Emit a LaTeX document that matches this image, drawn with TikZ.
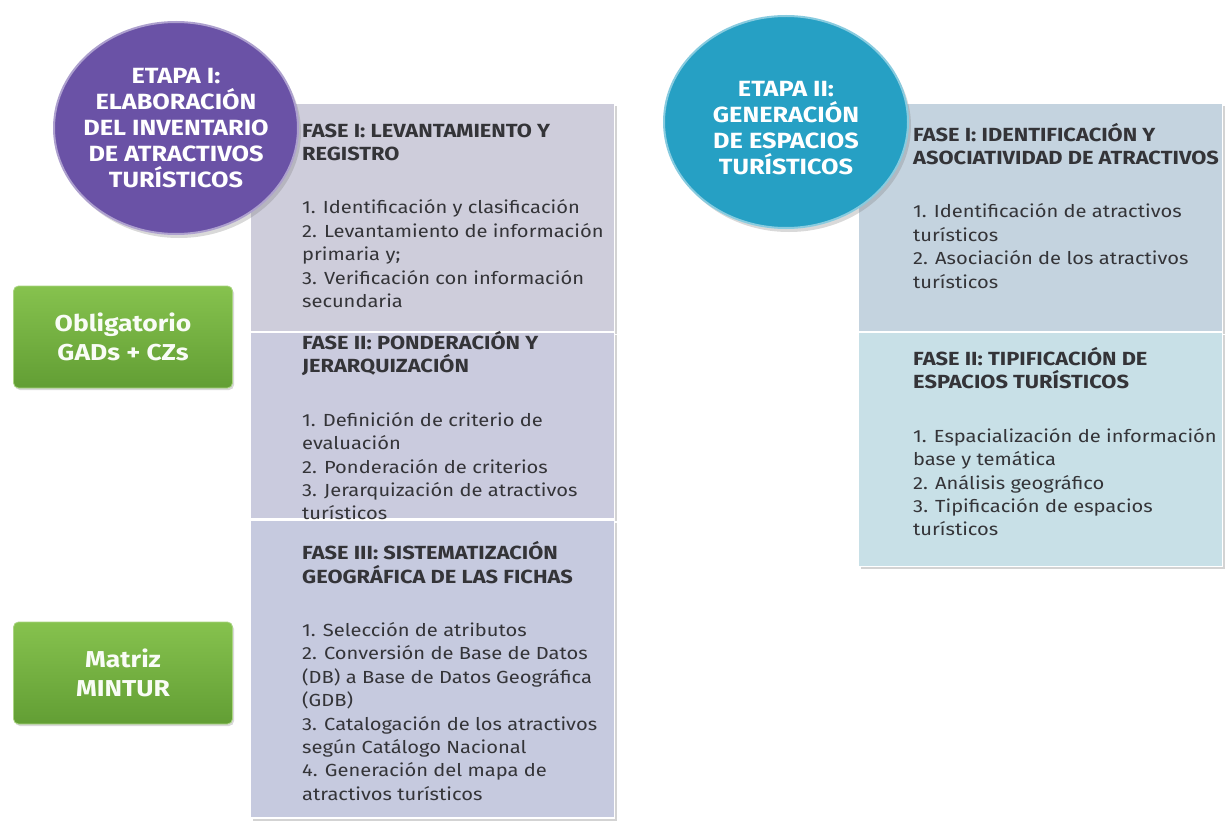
\documentclass[tikz,border=0pt]{standalone}
\usepackage{fontspec}
\setmainfont{Fira Sans}[FakeStretch=1.15]
\usetikzlibrary{positioning,shapes.geometric,shadows}

\definecolor{EtapaPurple}{RGB}{106,82,166}
\definecolor{EtapaTeal}{RGB}{38,160,196}
\definecolor{FaseA}{RGB}{206,205,219}
\definecolor{FaseB}{RGB}{202,203,222}
\definecolor{FaseC}{RGB}{198,202,223}
\definecolor{FaseD}{RGB}{196,211,223}
\definecolor{FaseE}{RGB}{200,224,231}
\definecolor{LeafTop}{RGB}{134,194,78}
\definecolor{LeafBot}{RGB}{98,158,52}
\definecolor{InkGray}{RGB}{52,52,56}

\newcommand{\fasehead}[1]{{\fontsize{19}{23.5}\selectfont\bfseries #1}}

\begin{document}
\begin{tikzpicture}[
    x=1pt, y=-1pt, node distance=0pt,
    fase/.style={draw=white, line width=1.2pt, fill=#1, inner sep=0pt,
                 minimum width=364pt,
                 drop shadow={shadow xshift=2pt, shadow yshift=-2.5pt, opacity=.35}},
    txt/.style={anchor=west, align=left, inner sep=0pt, text=InkGray,
                font=\fontsize{17.5}{23.4}\selectfont},
    etapa/.style={ellipse, fill=#1, draw=#1!55!white, line width=2pt, inner sep=0pt,
                  minimum width=244pt, minimum height=212pt,
                  drop shadow={shadow xshift=3pt, shadow yshift=-4pt, opacity=.3}},
    etapatxt/.style={align=center, inner sep=0pt, text=white,
                     font=\fontsize{22}{26}\selectfont\bfseries},
    tag/.style={rounded corners=5pt, top color=LeafTop, bottom color=LeafBot,
                draw=LeafTop!70!white, line width=.8pt,
                minimum width=219pt, minimum height=102pt, align=center,
                text=white!95!LeafTop, font=\fontsize{23}{29}\selectfont\bfseries,
                drop shadow={shadow xshift=1.5pt, shadow yshift=-2pt, opacity=.3}}
  ]
    \useasboundingbox (0,0) rectangle (1225,821);

    % etapa I: phases
    \node[fase=FaseA, minimum height=228pt, anchor=north west] (f1) at (250,103) {};
    \node[fase=FaseB, minimum height=186pt, below=of f1] (f2) {};
    \node[fase=FaseC, minimum height=298pt, below=of f2] (f3) {};

    \node[txt] (t1) at ([shift={(52,-2)}]f1.west)
      {\fasehead{FASE I: LEVANTAMIENTO Y}\\\fasehead{REGISTRO}\\[30pt]
       1. Identificación y clasificación\\2. Levantamiento de información\\
       primaria y;\\3. Verificación con información\\secundaria};
    \node[txt] (t2) at ([shift={(52,0)}]f2.west)
      {\fasehead{FASE II: PONDERACIÓN Y}\\\fasehead{JERARQUIZACIÓN}\\[30pt]
       1. Definición de criterio de\\evaluación\\2. Ponderación de criterios\\
       3. Jerarquización de atractivos\\turísticos};
    \node[txt] (t3) at ([shift={(52,2)}]f3.west)
      {\fasehead{FASE III: SISTEMATIZACIÓN}\\\fasehead{GEOGRÁFICA DE LAS FICHAS}\\[30pt]
       1. Selección de atributos\\2. Conversión de Base de Datos\\
       (DB) a Base de Datos Geográfica\\(GDB)\\
       3. Catalogación de los atractivos\\según Catálogo Nacional\\
       4. Generación del mapa de\\atractivos turísticos};

    % etapa II: phases
    \node[fase=FaseD, minimum height=228pt, anchor=north west] (g1) at (858,103) {};
    \node[fase=FaseE, minimum height=234pt, below=of g1] (g2) {};

    \node[txt] (u1) at ([shift={(55,-12)}]g1.west)
      {\fasehead{FASE I: IDENTIFICACIÓN Y}\\\fasehead{ASOCIATIVIDAD DE ATRACTIVOS}\\[30pt]
       1. Identificación de atractivos\\turísticos\\
       2. Asociación de los atractivos\\turísticos};
    \node[txt] (u2) at ([shift={(55,-8)}]g2.west)
      {\fasehead{FASE II: TIPIFICACIÓN DE}\\\fasehead{ESPACIOS TURÍSTICOS}\\[30pt]
       1. Espacialización de información\\base y temática\\
       2. Análisis geográfico\\3. Tipificación de espacios\\turísticos};

    % etapas
    \node[etapa=EtapaPurple] (e1) at (176,128) {};
    \node[etapatxt] (e1t) at (e1)
      {ETAPA I:\\ELABORACIÓN\\DEL INVENTARIO\\DE ATRACTIVOS\\TURÍSTICOS};
    \node[etapa=EtapaTeal] (e2) at (786,122) {};
    \node[etapatxt] (e2t) at ([yshift=-6pt]e2)
      {ETAPA II:\\GENERACIÓN\\DE ESPACIOS\\TURÍSTICOS};

    % tags
    \node[tag] (oblig) at (123,337) {Obligatorio\\GADs + CZs};
    \node[tag] (matriz) at (123,673) {Matriz\\MINTUR};
  \end{tikzpicture}
\end{document}
